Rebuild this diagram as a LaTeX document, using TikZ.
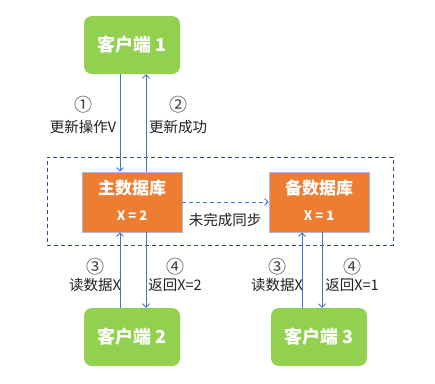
\documentclass[tikz,border=0pt]{standalone}
\usepackage{fontspec}
\setmainfont{Noto Sans CJK SC}
\usetikzlibrary{arrows.meta}
\definecolor{cgreen}{HTML}{92D050}
\definecolor{corange}{HTML}{ED7D31}
\definecolor{cblue}{HTML}{4472C4}
\definecolor{cdark}{HTML}{2F4C8A}
\definecolor{cedge}{HTML}{A9B9D9}
\definecolor{ctext}{HTML}{202020}
\tikzset{
  client/.style={fill=cgreen, rounded corners=8pt, minimum width=96pt, minimum height=58pt,
    text=white, font=\fontsize{18}{20}\selectfont\bfseries, inner sep=0pt},
  dbbox/.style={fill=corange, draw=cedge, line width=0.8pt, minimum width=100pt, minimum height=60pt, inner sep=0pt},
  dbtitle/.style={text=white, font=\fontsize{17}{19}\selectfont\bfseries, inner sep=0pt},
  dbval/.style={text=white, font=\fontsize{13}{15}\selectfont\bfseries, inner sep=0pt},
  lbl/.style={text=ctext, font=\fontsize{14.5}{16}\selectfont, inner sep=0pt},
  num/.style={text=ctext, font=\fontsize{18}{20}\selectfont\addfontfeatures{Color=404040}, inner sep=0pt},
  arr/.style={draw=cblue, line width=0.8pt, -{Straight Barb[length=3.5pt,width=7pt]}},
  group/.style={draw=cdark, line width=0.8pt, dash pattern=on 4pt off 3pt},
}
\begin{document}
\begin{tikzpicture}[x=1pt,y=-1pt]
\useasboundingbox (0,0) rectangle (435,383);
\fill[white] (0,0) rectangle (435,383);
% group box
\node[group, minimum width=346pt, minimum height=88pt, inner sep=0pt] (grp) at (220,201) {};
% nodes
\node[client] (c1) at (132,45) {客户端 1};
\node[dbbox] (m) at (132,202) {};
\node[dbtitle] (mt) at (132,188) {主数据库};
\node[dbval] (mv) at (132,216) {X = 2};
\node[dbbox] (b) at (319,202) {};
\node[dbtitle] (bt) at (319,188) {备数据库};
\node[dbval] (bv) at (319,216) {X = 1};
\node[client] (c2) at (132,337) {客户端 2};
\node[client] (c3) at (319,337) {客户端 3};
% connectors
\draw[arr] ([xshift=-12pt]c1.south) -- ([xshift=-12pt]m.north);
\draw[arr] ([xshift=14pt]m.north) -- ([xshift=14pt]c1.south);
\draw[arr] ([xshift=-12pt]c2.north) -- ([xshift=-12pt]m.south);
\draw[arr] ([xshift=14pt]m.south) -- ([xshift=14pt]c2.north);
\draw[arr] ([xshift=-17pt]c3.north) -- ([xshift=-17pt]b.south);
\draw[arr] ([xshift=3pt]b.south) -- ([xshift=3pt]c3.north);
\draw[arr, dash pattern=on 4pt off 3pt] (m.east) -- (b.west);
% labels
\node[lbl] (sync) at (225,220) {未完成同步};
\node[num] (n1) at (83,105) {①};
\node[lbl] (t1) at (83,127) {更新操作V};
\node[num] (n2) at (178,105) {②};
\node[lbl] (t2) at (178,127) {更新成功};
\node[num] (n3) at (95,267) {③};
\node[lbl] (t3) at (95,285) {读数据X};
\node[num] (n4) at (175,267) {④};
\node[lbl] (t4) at (175,285) {返回X=2};
\node[num] (n5) at (277,267) {③};
\node[lbl] (t5) at (277,285) {读数据X};
\node[num] (n6) at (352,267) {④};
\node[lbl] (t6) at (352,285) {返回X=1};
\end{tikzpicture}
\end{document}
